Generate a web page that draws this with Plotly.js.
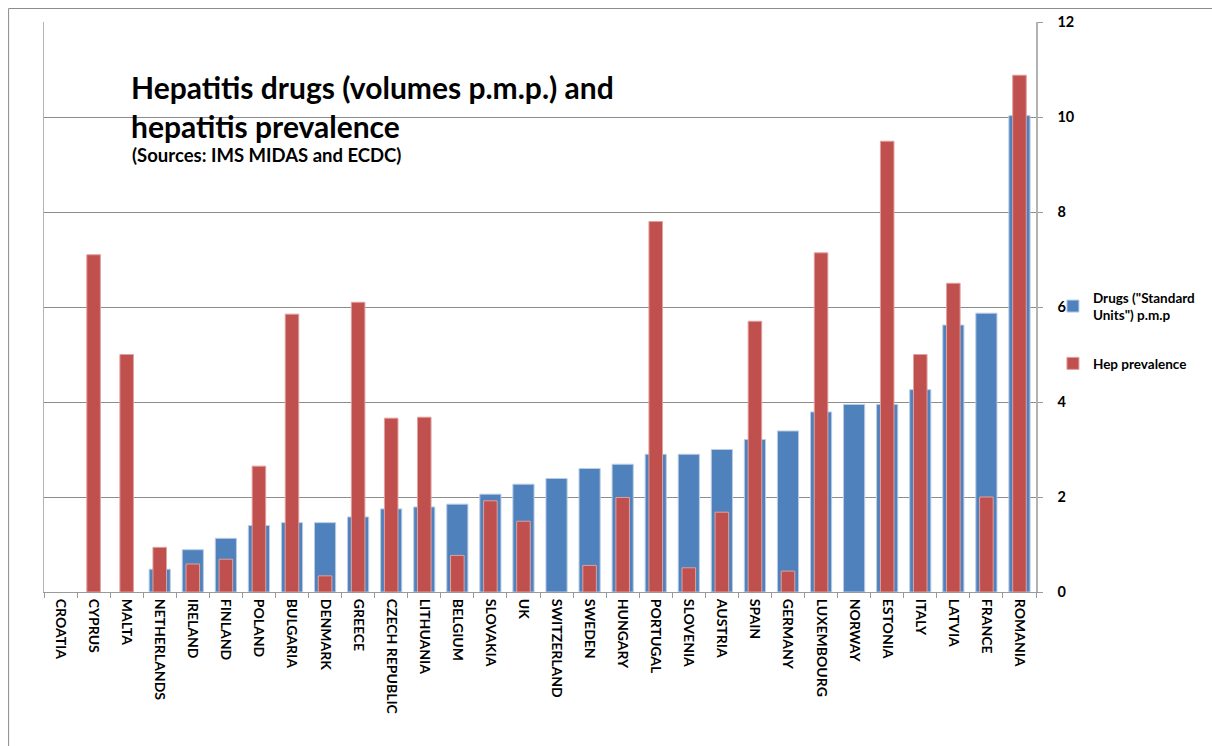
<!DOCTYPE html>
<html>
<head>
<meta charset="utf-8">
<script src="https://cdn.plot.ly/plotly-3.0.1.min.js"></script>
<style>html,body{margin:0;padding:0;background:#fff;}#chart{width:1212px;height:746px;}</style>
</head>
<body>
<div id="chart"></div>
<script>
const categories = ['CROATIA','CYPRUS','MALTA','NETHERLANDS','IRELAND','FINLAND','POLAND','BULGARIA','DENMARK','GREECE','CZECH REPUBLIC','LITHUANIA','BELGIUM','SLOVAKIA','UK','SWITZERLAND','SWEDEN','HUNGARY','PORTUGAL','SLOVENIA','AUSTRIA','SPAIN','GERMANY','LUXEMBOURG','NORWAY','ESTONIA','ITALY','LATVIA','FRANCE','ROMANIA'];
const drugs = [null,null,null,0.48,0.89,1.13,1.40,1.46,1.46,1.58,1.75,1.79,1.85,2.06,2.27,2.39,2.60,2.69,2.90,2.90,3.00,3.21,3.39,3.79,3.95,3.95,4.26,5.62,5.87,10.03];
const hepPrevalence = [null,7.1,5.0,0.94,0.59,0.69,2.65,5.85,0.34,6.1,3.66,3.68,0.77,1.92,1.49,null,0.56,1.99,7.8,0.51,1.68,5.7,0.44,7.14,null,9.49,5.0,6.5,2.0,10.88];
const yTicks = [0,2,4,6,8,10,12];
const seriesNames = ['Drugs ("Standard<br>Units") p.m.p', 'Hep prevalence'];

const FONT = 'Lato, "Open Sans", sans-serif';

const traces = [
  {
    type: 'bar', x: categories, y: drugs, name: seriesNames[0],
    width: 0.64, legendgroup: 'a',
    marker: {color: '#4F81BD', line: {color: '#B9CDE5', width: 1}},
    hoverinfo: 'x+y'
  },
  {
    type: 'bar', x: categories, y: hepPrevalence, name: seriesNames[1],
    width: 0.41, legendgroup: 'b',
    marker: {color: '#C0504D', line: {color: '#E0A09E', width: 1}},
    hoverinfo: 'x+y'
  }
];

const px2x = p => (p - 44) / 995;
const px2y = p => (592 - p) / 570;

const layout = {
  width: 1212, height: 746,
  margin: {l: 44, r: 173, t: 22, b: 154, pad: 0},
  paper_bgcolor: '#ffffff', plot_bgcolor: '#ffffff',
  barmode: 'overlay',
  showlegend: true,
  font: {family: FONT, color: '#000'},
  xaxis: {
    type: 'category',
    tickangle: 90,
    tickson: 'boundaries',
    ticks: 'outside', ticklen: 5, tickcolor: '#9a9a9a', tickwidth: 1,
    showline: true, linecolor: '#9a9a9a', linewidth: 1,
    showgrid: false, zeroline: false,
    ticklabelstandoff: 3,
    tickfont: {family: FONT, size: 14, color: '#000', weight: 'bold'},
    fixedrange: true
  },
  yaxis: {
    side: 'right',
    range: [0, 12],
    tickvals: yTicks,
    ticktext: yTicks.map(String),
    showgrid: true, gridcolor: '#8c8c8c', gridwidth: 1,
    showline: true, mirror: true, linecolor: '#b3b3b3', linewidth: 1.5,
    ticks: 'outside', ticklen: 5, tickcolor: '#9a9a9a',
    ticklabelstandoff: 12,
    zeroline: false,
    tickfont: {family: FONT, size: 14.5, color: '#000', weight: 'bold'},
    fixedrange: true
  },
  legend: {
    x: px2x(1056), y: px2y(282), xanchor: 'left', yanchor: 'top',
    bgcolor: 'rgba(0,0,0,0)', borderwidth: 0,
    tracegroupgap: 28,
    font: {family: FONT, size: 13.5, color: '#000', weight: 'bold'}
  },
  annotations: [
    {xref: 'paper', yref: 'paper', x: px2x(129), y: px2y(87), xanchor: 'left', yanchor: 'middle',
     text: 'Hepatitis drugs (volumes p.m.p.) and', showarrow: false,
     font: {family: FONT, size: 30, color: '#000', weight: 'bold'}},
    {xref: 'paper', yref: 'paper', x: px2x(129), y: px2y(126), xanchor: 'left', yanchor: 'middle',
     text: 'hepatitis prevalence', showarrow: false,
     font: {family: FONT, size: 30, color: '#000', weight: 'bold'}},
    {xref: 'paper', yref: 'paper', x: px2x(130), y: px2y(155), xanchor: 'left', yanchor: 'middle',
     text: '(Sources: IMS MIDAS and ECDC)', showarrow: false,
     font: {family: FONT, size: 18.5, color: '#000', weight: 'bold'}}
  ],
  shapes: [
    {type: 'rect', xref: 'paper', yref: 'paper', layer: 'below',
     x0: px2x(8.5), x1: px2x(1230), y0: px2y(760), y1: px2y(8.5),
     line: {color: '#8c8c8c', width: 1}, fillcolor: 'rgba(0,0,0,0)'}
  ]
};

Plotly.newPlot('chart', traces, layout, {displayModeBar: false, staticPlot: true});
</script>
</body>
</html>
